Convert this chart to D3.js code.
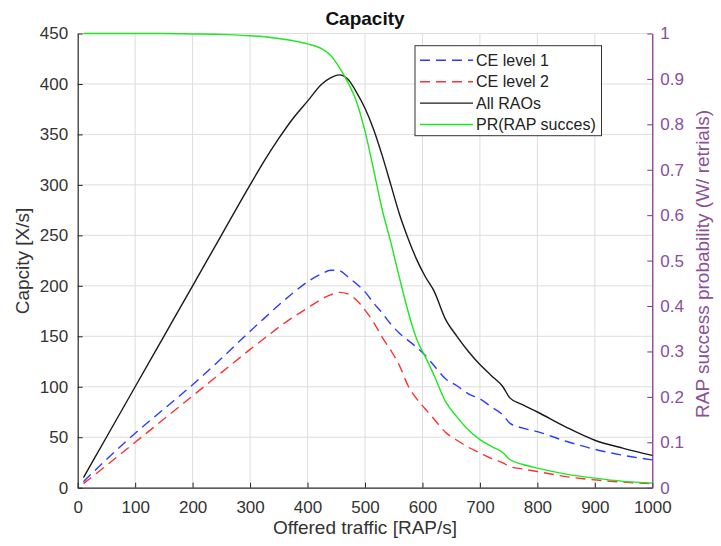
<!DOCTYPE html>
<html><head><meta charset="utf-8">
<script src="https://cdn.jsdelivr.net/npm/d3@7"></script>
<style>
body{margin:0;background:#fff;}
svg{display:block;font-family:"Liberation Sans",Arial,sans-serif;}
</style></head>
<body><svg id="c" width="721" height="546"></svg>
<script>
const offeredTraffic = [10,50,100,150,200,250,300,325,350,375,400,425,440,455,470,485,500,515,530,545,560,575,590,605,620,640,660,680,700,720,740,752,775,800,850,900,950,1000];
const allRAOs = [10,50,100,150,200,250,300,324,346,366,383,400,406,409,405,392,376,355,329,300,271,247,226,209,195,167,150,135,122,111,100,89,82,75,60,47,39,32];
const ceLevel1 = [6,28,54,78,102,128,155,168,181,193,204,212,215.5,215,209,202,194,183,173,162,153,146,139,131,121,108,101,93,88,80,72,64,59,55.5,46,38,32,27.5];
const ceLevel2 = [4,22,45,68,91,114,137,148,159,169,178,187,191,193.5,192,186,176,164,149,136,121,101,88,78,68,55,47,40,34.5,29,24.5,21,18.5,16,11,7.7,5.5,4];
const prSuccess = [1,1,1,1,0.999,0.998,0.995,0.993,0.989,0.984,0.977,0.966,0.952,0.926,0.893,0.851,0.785,0.70,0.612,0.54,0.462,0.388,0.327,0.288,0.248,0.19,0.156,0.127,0.106,0.091,0.077,0.062,0.051,0.043,0.030,0.021,0.014,0.01];
const xTicks = [0,100,200,300,400,500,600,700,800,900,1000];
const yLeftTicks = [0,50,100,150,200,250,300,350,400,450];
const yRightTicks = [0,0.1,0.2,0.3,0.4,0.5,0.6,0.7,0.8,0.9,1];
const legendLabels = ["CE level 1","CE level 2","All RAOs","PR(RAP succes)"];

const svg = d3.select("#c");
const L = 77.7, R = 652.3, T = 33.5, B = 487.7;
const x = d3.scaleLinear().domain([0,1000]).range([L,R]);
const yL = d3.scaleLinear().domain([0,450]).range([B,T]);
const yR = d3.scaleLinear().domain([0,1]).range([B,T]);
const axisCol = "#262626", purple = "#7E2F8E", purpleText = "#8a4f9a";
const FONT = "Liberation Sans, Arial, sans-serif";

// grid
const g = svg.append("g");
g.selectAll(".gx").data(xTicks.slice(1)).join("line")
  .attr("x1",d=>x(d)).attr("x2",d=>x(d)).attr("y1",T).attr("y2",B)
  .attr("stroke","#dedede").attr("stroke-width",1);
g.selectAll(".gy").data(yLeftTicks.slice(1)).join("line")
  .attr("x1",L).attr("x2",R).attr("y1",d=>yL(d)).attr("y2",d=>yL(d))
  .attr("stroke","#dedede").attr("stroke-width",1);

// axes
const ax = svg.append("g").attr("transform",`translate(0,${B})`)
  .call(d3.axisBottom(x).tickValues(xTicks).tickFormat(d3.format("d")).tickSizeInner(-5).tickSizeOuter(0).tickPadding(13));
const ayl = svg.append("g").attr("transform",`translate(${L},0)`)
  .call(d3.axisLeft(yL).tickValues(yLeftTicks).tickFormat(d3.format("d")).tickSizeInner(-5).tickSizeOuter(0).tickPadding(9.5));
const ayr = svg.append("g").attr("transform",`translate(${R},0)`)
  .call(d3.axisRight(yR).tickValues(yRightTicks).tickFormat(d3.format("~g")).tickSizeInner(-5).tickSizeOuter(0).tickPadding(8));
[ax,ayl].forEach(a=>{
  a.select(".domain").attr("stroke",axisCol).attr("stroke-width",1.2);
  a.selectAll(".tick line").attr("stroke",axisCol);
  a.selectAll("text").attr("fill","#333").style("font-size","17px").style("font-family",FONT);
});
ayr.select(".domain").attr("stroke",purple).attr("stroke-width",1.2);
ayr.selectAll(".tick line").attr("stroke",purple);
ayr.selectAll("text").attr("fill",purpleText).style("font-size","17px").style("font-family",FONT);

// lines
const idx = d3.range(offeredTraffic.length);
const lineL = arr => d3.line().x(i=>x(offeredTraffic[i])).y(i=>yL(arr[i])).curve(d3.curveMonotoneX)(idx);
const lineR = arr => d3.line().x(i=>x(offeredTraffic[i])).y(i=>yR(arr[i])).curve(d3.curveMonotoneX)(idx);
const series = [
  {d:lineL(ceLevel1), c:"#2b3cff", dash:"10,6"},
  {d:lineL(ceLevel2), c:"#ff3030", dash:"10,6"},
  {d:lineL(allRAOs), c:"#1a1a1a", dash:null},
  {d:lineR(prSuccess), c:"#1ee81e", dash:null}
];
series.forEach(s=>{
  svg.append("path").attr("d",s.d).attr("fill","none").attr("stroke",s.c)
    .attr("stroke-width",1.4).attr("stroke-dasharray",s.dash);
});

// labels
svg.append("text").attr("x",(L+R)/2).attr("y",25).attr("text-anchor","middle")
  .style("font-weight","bold").style("font-size","19px").attr("fill","#111").text("Capacity");
svg.append("text").attr("x",365).attr("y",534).attr("text-anchor","middle")
  .style("font-size","19px").attr("fill","#333").text("Offered traffic [RAP/s]");
svg.append("text").attr("transform",`translate(29,261) rotate(-90)`).attr("text-anchor","middle")
  .style("font-size","19px").attr("fill","#333").text("Capcity [X/s]");
svg.append("text").attr("transform",`translate(709,264) rotate(-90)`).attr("text-anchor","middle")
  .style("font-size","19px").attr("fill",purpleText).text("RAP success probability (W/ retrials)");

// legend
const lg = svg.append("g");
lg.append("rect").attr("x",415).attr("y",45.7).attr("width",186.5).attr("height",90)
  .attr("fill","#fff").attr("stroke","#333").attr("stroke-width",1);
legendLabels.forEach((t,i)=>{
  const yy = 60.3 + i*21.4;
  lg.append("line").attr("x1",420).attr("x2",473).attr("y1",yy).attr("y2",yy)
    .attr("stroke",series[i].c).attr("stroke-width",1.4).attr("stroke-dasharray",series[i].dash);
  lg.append("text").attr("x",476).attr("y",yy+5.5).style("font-size","16px").attr("fill","#222").text(t);
});
</script></body></html>
